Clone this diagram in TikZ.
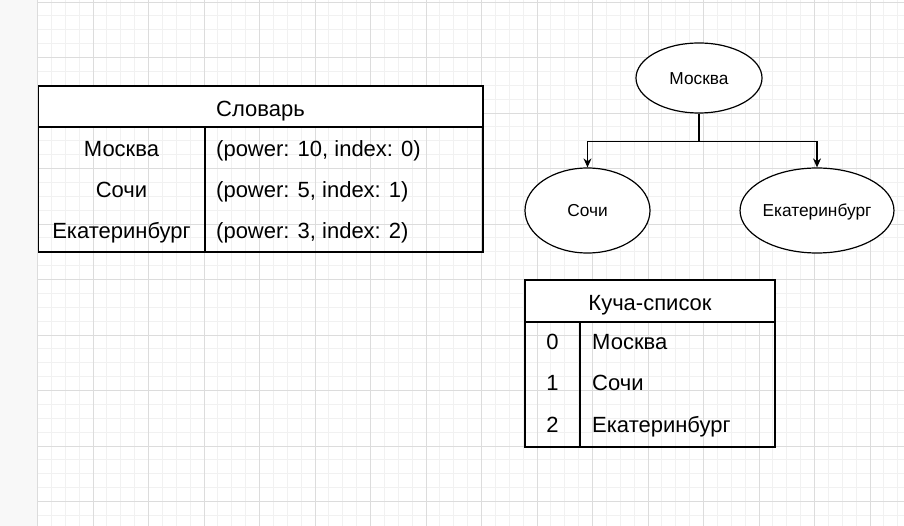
\documentclass[tikz,border=0pt]{standalone}
\usepackage{fontspec}
\setmainfont{Liberation Sans}
\usetikzlibrary{shapes.geometric,arrows.meta}
\definecolor{minorgrid}{HTML}{F1F1F1}
\definecolor{majorgrid}{HTML}{DCDCDC}
\definecolor{sidebar}{HTML}{F8F8F8}
\tikzset{
  tbl/.style={draw=black, line width=1.2pt},
  big/.style={font=\fontsize{22}{25}\selectfont, inner sep=0pt, text height=15.75pt, text depth=0pt},
  small/.style={font=\fontsize{17.3}{20}\selectfont, inner sep=0pt, text height=12.4pt, text depth=0pt},
  city/.style={ellipse, draw=black, line width=1.2pt, fill=white, inner sep=0pt},
  arr/.style={draw=black, line width=1.2pt, -{Stealth[length=9pt,width=8pt]}},
}
\begin{document}
\begin{tikzpicture}[x=1pt,y=-1pt]
\useasboundingbox (0,0) rectangle (904,526);
\fill[white] (0,0) rectangle (904,526);
\fill[sidebar] (0,0) rectangle (37.5,526);
% grid
\foreach \i in {0,...,62} \draw[minorgrid, line width=0.8pt] ({37.5+\i*13.875},0) -- ({37.5+\i*13.875},526);
\foreach \i in {0,...,37} \draw[minorgrid, line width=0.8pt] (37.5,{2+\i*13.875}) -- (904,{2+\i*13.875});
\foreach \i in {0,...,15} \draw[majorgrid, line width=0.8pt] ({37.5+\i*55.5},0) -- ({37.5+\i*55.5},526);
\foreach \i in {0,...,9} \draw[majorgrid, line width=0.8pt] (37.5,{2+\i*55.5}) -- (904,{2+\i*55.5});

% left table
\fill[white] (38.5,86) rectangle (483,127);
\draw[tbl] (38.5,86) rectangle (483,252);
\draw[tbl] (38.5,127) -- (483,127);
\draw[tbl] (205,127) -- (205,252);
\node[big] (dict) at (260.5,108.3) {Словарь};
\node[big] (dk1) at (121.5,149) {Москва};
\node[big] (dk2) at (121.5,189.2) {Сочи};
\node[big] (dk3) at (121.5,230.5) {Екатеринбург};
\node[big, anchor=west] (dv1) at (216,149) {(power: 10, index: 0)};
\node[big, anchor=west] (dv2) at (216,189.2) {(power: 5, index: 1)};
\node[big, anchor=west] (dv3) at (216,230.5) {(power: 3, index: 2)};

% right table
\fill[white] (525,280) rectangle (775,322);
\draw[tbl] (525,280) rectangle (775,447);
\draw[tbl] (525,322) -- (775,322);
\draw[tbl] (580,322) -- (580,447);
\node[big] (heap) at (650,302.5) {Куча-список};
\node[big] (hk1) at (552.5,341.7) {0};
\node[big] (hk2) at (552.5,382.5) {1};
\node[big] (hk3) at (552.5,424.2) {2};
\node[big, anchor=west] (hv1) at (592,341.7) {Москва};
\node[big, anchor=west] (hv2) at (592,382.5) {Сочи};
\node[big, anchor=west] (hv3) at (592,424.2) {Екатеринбург};

% tree
\node[city, small, minimum width=126pt, minimum height=70pt] (m) at (699,78) {Москва};
\node[city, small, minimum width=125pt, minimum height=85pt] (s) at (587.5,210.5) {Сочи};
\node[city, small, minimum width=140pt, minimum height=85pt] (e) at (817,210.5) {Екатеринбург};
\draw[arr] (m.south) -- ++(0,28) -| (s.north);
\draw[arr] (m.south) -- ++(0,28) -| (e.north);
\end{tikzpicture}
\end{document}
